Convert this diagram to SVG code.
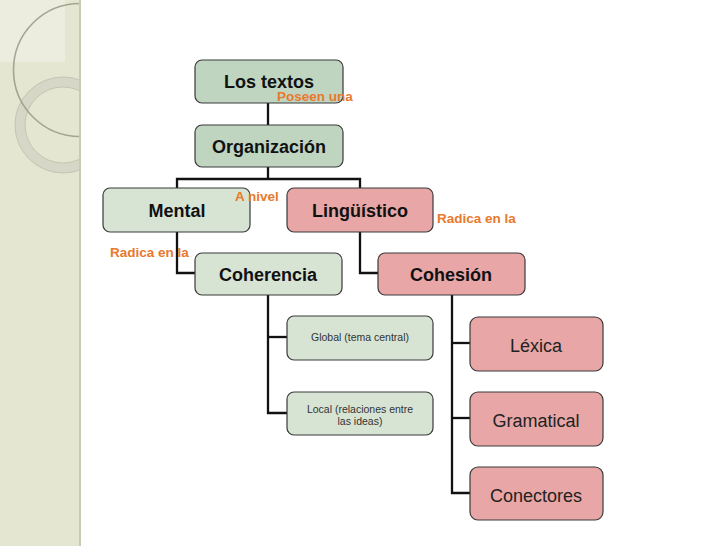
<svg xmlns="http://www.w3.org/2000/svg" width="728" height="546" viewBox="0 0 728 546">
<defs>
<style>
.g1{fill:#bfd5c0;stroke:#3a3a3a;stroke-width:1.2}
.g2{fill:#d7e4d4;stroke:#3a3a3a;stroke-width:1.2}
.p{fill:#e8a6a6;stroke:#3a3a3a;stroke-width:1.2}
.b{font-family:"Liberation Sans",Arial,sans-serif;font-weight:bold;font-size:18px;fill:#111;text-anchor:middle}
.n{font-family:"Liberation Sans",Arial,sans-serif;font-size:18px;fill:#222;text-anchor:middle}
.s{font-family:"Liberation Sans",Arial,sans-serif;font-size:10.5px;fill:#333;text-anchor:middle}
.o{font-family:"Liberation Sans",Arial,sans-serif;font-weight:bold;font-size:13.5px;fill:#e8792d}
.c{fill:none;stroke:#111;stroke-width:2.3}
</style>
<clipPath id="band"><rect x="0" y="0" width="80" height="546"/></clipPath>
</defs>
<rect width="728" height="546" fill="#ffffff"/>
<g id="background">
<rect x="0" y="0" width="80" height="546" fill="#e5e6d1"/>
<rect x="0" y="0" width="65" height="62" fill="#ecedde"/>
<g clip-path="url(#band)">
<circle cx="63" cy="125" r="43" fill="none" stroke="#d6d7c6" stroke-width="10"/>
<circle cx="63" cy="125" r="48" fill="none" stroke="#c4c5b2" stroke-width="1"/>
<circle cx="63" cy="125" r="38" fill="none" stroke="#c4c5b2" stroke-width="1"/>
<circle cx="80" cy="70" r="66.5" fill="none" stroke="#a3a493" stroke-width="1.6"/>
</g>
<line x1="80" y1="0" x2="80" y2="546" stroke="#c9cab4" stroke-width="2"/>
</g>
<g id="connectors">
<line class="c" x1="268" y1="103" x2="268" y2="125"/>
<polyline class="c" points="268,167 268,179"/>
<polyline class="c" points="177,188 177,179 360,179 360,188"/>
<polyline class="c" points="177,232 177,273 195,273"/>
<polyline class="c" points="360,232 360,273 378,273"/>
<polyline class="c" points="268,295 268,413 287,413"/>
<line class="c" x1="268" y1="337" x2="287" y2="337"/>
<polyline class="c" points="452,295 452,493 470,493"/>
<line class="c" x1="452" y1="343" x2="470" y2="343"/>
<line class="c" x1="452" y1="418" x2="470" y2="418"/>
</g>
<g id="n-textos">
<rect class="g1" x="195" y="60" width="148" height="43" rx="7"/>
<text class="b" x="269" y="87.5">Los textos</text>
</g>
<g id="n-organizacion">
<rect class="g1" x="195" y="125" width="148" height="42" rx="7"/>
<text class="b" x="269" y="153">Organización</text>
</g>
<g id="n-mental">
<rect class="g2" x="103" y="188" width="147" height="44" rx="7"/>
<text class="b" x="177" y="217">Mental</text>
</g>
<g id="n-linguistico">
<rect class="p" x="287" y="188" width="146" height="44" rx="7"/>
<text class="b" x="360" y="217">Lingüístico</text>
</g>
<g id="n-coherencia">
<rect class="g2" x="195" y="253" width="147" height="42" rx="7"/>
<text class="b" x="268" y="281">Coherencia</text>
</g>
<g id="n-cohesion">
<rect class="p" x="378" y="253" width="147" height="42" rx="7"/>
<text class="b" x="451" y="281">Cohesión</text>
</g>
<g id="n-global">
<rect class="g2" x="287" y="316" width="146" height="44" rx="7"/>
<text class="s" x="360" y="341">Global (tema central)</text>
</g>
<g id="n-local">
<rect class="g2" x="287" y="392" width="146" height="43" rx="7"/>
<text class="s" x="360" y="412.5">Local (relaciones entre</text>
<text class="s" x="360" y="424.5">las ideas)</text>
</g>
<g id="n-lexica">
<rect class="p" x="470" y="317" width="133" height="54" rx="8"/>
<text class="n" x="536" y="352">Léxica</text>
</g>
<g id="n-gramatical">
<rect class="p" x="470" y="392" width="133" height="54" rx="8"/>
<text class="n" x="536" y="427">Gramatical</text>
</g>
<g id="n-conectores">
<rect class="p" x="470" y="467" width="133" height="53" rx="8"/>
<text class="n" x="536" y="501.5">Conectores</text>
</g>
<g id="labels">
<text class="o" x="277" y="101">Poseen una</text>
<text class="o" x="235" y="200.5">A nivel</text>
<text class="o" x="437" y="223">Radica en la</text>
<text class="o" x="110" y="257">Radica en la</text>
</g>
</svg>
